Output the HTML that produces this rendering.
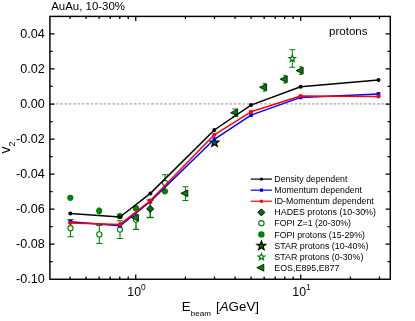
<!DOCTYPE html><html><head><meta charset="utf-8"><style>html,body{margin:0;padding:0;background:#fff}svg{display:block}text{font-family:"Liberation Sans",sans-serif;fill:#000}</style></head><body>
<svg width="415" height="321" viewBox="0 0 415 321">
<rect width="415" height="321" fill="#fff"/>
<g style="filter:blur(0.3px)">
<line x1="49.9" y1="103.9" x2="390.3" y2="103.9" stroke="#a6a6a6" stroke-width="1.35" stroke-dasharray="2.55 1.79" stroke-dashoffset="2.68"/>
<path d="M70.50 219.60V236.80M67.40 219.60H73.60M67.40 236.80H73.60" stroke="#008000" stroke-width="1.05" fill="none"/>
<circle cx="70.5" cy="228.2" r="2.6" fill="#fff" stroke="#008000" stroke-width="1.1"/>
<path d="M99.30 225.40V243.40M96.20 225.40H102.40M96.20 243.40H102.40" stroke="#008000" stroke-width="1.05" fill="none"/>
<circle cx="99.3" cy="234.4" r="2.6" fill="#fff" stroke="#008000" stroke-width="1.1"/>
<path d="M120.00 220.80V238.40M116.90 220.80H123.10M116.90 238.40H123.10" stroke="#008000" stroke-width="1.05" fill="none"/>
<circle cx="120.0" cy="229.6" r="2.6" fill="#fff" stroke="#008000" stroke-width="1.1"/>
<path d="M136.00 209.80V229.40M132.90 209.80H139.10M132.90 229.40H139.10" stroke="#008000" stroke-width="1.4" fill="none"/>
<circle cx="136.0" cy="219.6" r="2.6" fill="#fff" stroke="#008000" stroke-width="1.1"/>
<path d="M165.00 174.70V191.30M161.90 174.70H168.10M161.90 191.30H168.10" stroke="#008000" stroke-width="1.05" fill="none"/>
<circle cx="165.0" cy="183.0" r="2.6" fill="#fff" stroke="#008000" stroke-width="1.1"/>
<circle cx="70.3" cy="197.8" r="3.1" fill="#008000"/>
<path d="M99.2 207.0V214.8" stroke="#008000" stroke-width="1"/>
<circle cx="99.2" cy="210.9" r="3.1" fill="#008000"/>
<circle cx="119.8" cy="216.2" r="3.1" fill="#008000"/>
<circle cx="136.0" cy="208.0" r="3.1" fill="#008000"/>
<circle cx="164.9" cy="191.3" r="3.1" fill="#008000"/>
<path d="M150.20 200.00V217.60M146.70 200.00H153.70M146.70 217.60H153.70" stroke="#008000" stroke-width="1.5" fill="none"/>
<path d="M146.70 208.90L150.20 205.40L153.70 208.90L150.20 212.40Z" fill="#007400" stroke="#000" stroke-width="1.0"/>
<path d="M131.30 217.60L138.30 214.15V221.05Z" fill="#008000" stroke="#001800" stroke-width="0.9" stroke-linejoin="miter"/>
<path d="M185.40 186.70V200.50M182.40 186.70H188.40M182.40 200.50H188.40" stroke="#008000" stroke-width="1.0" fill="none"/>
<path d="M180.80 193.30L187.80 189.85V196.75Z" fill="#008000" stroke="#001800" stroke-width="0.9" stroke-linejoin="miter"/>
<path d="M235.20 109.00V116.40M232.30 109.00H238.10M232.30 116.40H238.10" stroke="#008000" stroke-width="1.0" fill="none"/>
<path d="M230.60 112.70L237.60 109.25V116.15Z" fill="#008000" stroke="#001800" stroke-width="0.9" stroke-linejoin="miter"/>
<path d="M264.20 83.40V91.20M262.60 83.40H265.80M262.60 91.20H265.80" stroke="#008000" stroke-width="1.0" fill="none"/>
<path d="M259.60 87.30L266.60 83.85V90.75Z" fill="#008000" stroke="#001800" stroke-width="0.9" stroke-linejoin="miter"/>
<path d="M284.80 75.30V83.10M283.20 75.30H286.40M283.20 83.10H286.40" stroke="#008000" stroke-width="1.0" fill="none"/>
<path d="M280.20 79.20L287.20 75.75V82.65Z" fill="#008000" stroke="#001800" stroke-width="0.9" stroke-linejoin="miter"/>
<path d="M300.70 66.70V74.50M299.10 66.70H302.30M299.10 74.50H302.30" stroke="#008000" stroke-width="1.0" fill="none"/>
<path d="M296.10 70.60L303.10 67.15V74.05Z" fill="#008000" stroke="#001800" stroke-width="0.9" stroke-linejoin="miter"/>
<polygon points="214.50,137.90 215.62,141.06 218.97,141.15 216.31,143.19 217.26,146.40 214.50,144.50 211.74,146.40 212.69,143.19 210.03,141.15 213.38,141.06" fill="#007000" stroke="#000" stroke-width="1.15"/>
<path d="M292.30 49.70V67.20M289.30 49.70H295.30M289.30 67.20H295.30" stroke="#008000" stroke-width="1.0" fill="none"/>
<polygon points="292.30,55.20 293.18,57.39 295.53,57.55 293.73,59.06 294.30,61.35 292.30,60.10 290.30,61.35 290.87,59.06 289.07,57.55 291.42,57.39" fill="#fff" stroke="#008000" stroke-width="1.25"/>
<polyline points="70.3,213.5 120.0,217.0 150.4,193.4 214.3,130.0 251.0,105.1 300.6,86.8 378.5,80.0" fill="none" stroke="#000" stroke-width="1.5" stroke-linejoin="round"/>
<circle cx="70.3" cy="213.5" r="2.0" fill="#000"/>
<circle cx="120.0" cy="217.0" r="2.0" fill="#000"/>
<circle cx="150.4" cy="193.4" r="2.0" fill="#000"/>
<circle cx="214.3" cy="130.0" r="2.0" fill="#000"/>
<circle cx="251.0" cy="105.1" r="2.0" fill="#000"/>
<circle cx="300.6" cy="86.8" r="2.0" fill="#000"/>
<circle cx="378.5" cy="80.0" r="2.0" fill="#000"/>
<polyline points="70.3,221.7 120.0,225.8 150.4,201.5 214.3,139.3 251.0,115.1 300.6,97.4 378.5,93.9" fill="none" stroke="#00f" stroke-width="1.5" stroke-linejoin="round"/>
<rect x="68.45" y="219.85" width="3.7" height="3.7" fill="#00f"/>
<rect x="118.15" y="223.95000000000002" width="3.7" height="3.7" fill="#00f"/>
<rect x="148.55" y="199.65" width="3.7" height="3.7" fill="#00f"/>
<rect x="212.45000000000002" y="137.45000000000002" width="3.7" height="3.7" fill="#00f"/>
<rect x="249.15" y="113.25" width="3.7" height="3.7" fill="#00f"/>
<rect x="298.75" y="95.55000000000001" width="3.7" height="3.7" fill="#00f"/>
<rect x="376.65" y="92.05000000000001" width="3.7" height="3.7" fill="#00f"/>
<polyline points="70.3,223.0 120.0,224.4 150.4,200.6 214.3,134.8 251.0,111.8 300.6,96.0 378.5,96.4" fill="none" stroke="#f00" stroke-width="1.5" stroke-linejoin="round"/>
<circle cx="70.3" cy="223.0" r="2.1" fill="#f00"/>
<circle cx="120.0" cy="224.4" r="2.1" fill="#f00"/>
<circle cx="150.4" cy="200.6" r="2.1" fill="#f00"/>
<circle cx="214.3" cy="134.8" r="2.1" fill="#f00"/>
<circle cx="251.0" cy="111.8" r="2.1" fill="#f00"/>
<circle cx="300.6" cy="96.0" r="2.1" fill="#f00"/>
<circle cx="378.5" cy="96.4" r="2.1" fill="#f00"/>
</g>
<rect x="49.9" y="16.4" width="340.40000000000003" height="262.85" fill="none" stroke="#000" stroke-width="1.45"/>
<path d="M49.9 33.92h4.7M390.3 33.92h-4.7M49.9 51.45h2.7M390.3 51.45h-2.7M49.9 68.97h4.7M390.3 68.97h-4.7M49.9 86.49h2.7M390.3 86.49h-2.7M49.9 104.02h4.7M390.3 104.02h-4.7M49.9 121.54h2.7M390.3 121.54h-2.7M49.9 139.06h4.7M390.3 139.06h-4.7M49.9 156.59h2.7M390.3 156.59h-2.7M49.9 174.11h4.7M390.3 174.11h-4.7M49.9 191.63h2.7M390.3 191.63h-2.7M49.9 209.16h4.7M390.3 209.16h-4.7M49.9 226.68h2.7M390.3 226.68h-2.7M49.9 244.20h4.7M390.3 244.20h-4.7M49.9 261.73h2.7M390.3 261.73h-2.7M70.09 279.25v-2.7M70.09 16.4v2.7M86.08 279.25v-2.7M86.08 16.4v2.7M99.14 279.25v-2.7M99.14 16.4v2.7M110.19 279.25v-2.7M110.19 16.4v2.7M119.76 279.25v-2.7M119.76 16.4v2.7M128.20 279.25v-2.7M128.20 16.4v2.7M135.75 279.25v-4.7M135.75 16.4v4.7M185.42 279.25v-2.7M185.42 16.4v2.7M214.48 279.25v-2.7M214.48 16.4v2.7M235.09 279.25v-2.7M235.09 16.4v2.7M251.08 279.25v-2.7M251.08 16.4v2.7M264.14 279.25v-2.7M264.14 16.4v2.7M275.19 279.25v-2.7M275.19 16.4v2.7M284.76 279.25v-2.7M284.76 16.4v2.7M293.20 279.25v-2.7M293.20 16.4v2.7M300.75 279.25v-4.7M300.75 16.4v4.7M350.42 279.25v-2.7M350.42 16.4v2.7M379.48 279.25v-2.7M379.48 16.4v2.7" stroke="#000" stroke-width="1.25" fill="none"/>
<g style="filter:blur(0.3px)">
<text x="44.8" y="38.07" font-size="12.6" text-anchor="end">0.04</text>
<text x="44.8" y="73.12" font-size="12.6" text-anchor="end">0.02</text>
<text x="44.8" y="108.17" font-size="12.6" text-anchor="end">0.00</text>
<text x="44.8" y="143.21" font-size="12.6" text-anchor="end">-0.02</text>
<text x="44.8" y="178.26" font-size="12.6" text-anchor="end">-0.04</text>
<text x="44.8" y="213.31" font-size="12.6" text-anchor="end">-0.06</text>
<text x="44.8" y="248.35" font-size="12.6" text-anchor="end">-0.08</text>
<text x="44.8" y="283.40" font-size="12.6" text-anchor="end">-0.10</text>
<text x="127.35" y="295.6" font-size="12.35">10<tspan font-size="8.4" dy="-5.9">0</tspan></text>
<text x="292.35" y="295.6" font-size="12.35">10<tspan font-size="8.4" dy="-5.9">1</tspan></text>
<text x="51.2" y="10.4" font-size="11.45">AuAu, 10-30%</text>
<text x="329.0" y="35" font-size="11.55">protons</text>
<text transform="translate(9.9,153.6) rotate(-90)" font-size="14.2">v<tspan font-size="8.9" dy="4.7">2</tspan></text>
<text x="181.8" y="311.2" font-size="13.35">E<tspan font-size="8.1" dy="4.3">beam</tspan><tspan dy="-4.3" dx="1.3"> [</tspan><tspan font-style="italic">A</tspan>GeV]</text>
<text x="274.3" y="182.20" font-size="8.78">Density dependent</text>
<line x1="250.8" y1="179.10" x2="272" y2="179.10" stroke="#000" stroke-width="1.2"/>
<circle cx="261.4" cy="179.10" r="1.7" fill="#000"/>
<text x="274.3" y="193.26" font-size="8.78">Momentum dependent</text>
<line x1="250.8" y1="190.16" x2="272" y2="190.16" stroke="#00f" stroke-width="1.2"/>
<rect x="259.79999999999995" y="188.56" width="3.2" height="3.2" fill="#00f"/>
<text x="274.3" y="204.32" font-size="8.78">ID-Momentum dependent</text>
<line x1="250.8" y1="201.22" x2="272" y2="201.22" stroke="#f00" stroke-width="1.2"/>
<circle cx="261.4" cy="201.22" r="1.7" fill="#f00"/>
<text x="274.3" y="215.38" font-size="8.9">HADES protons (10-30%)</text>
<path d="M257.90 212.38L261.40 208.88L264.90 212.38L261.40 215.88Z" fill="#007400" stroke="#000" stroke-width="1.0"/>
<text x="274.3" y="226.44" font-size="8.78">FOPI Z=1 (20-30%)</text>
<circle cx="261.4" cy="223.34" r="2.7" fill="#fff" stroke="#008000" stroke-width="1.1"/>
<text x="274.3" y="237.50" font-size="8.78">FOPI protons (15-29%)</text>
<circle cx="261.4" cy="234.40" r="3.2" fill="#008000"/>
<text x="274.3" y="248.56" font-size="8.9">STAR protons (10-40%)</text>
<polygon points="261.40,241.06 262.52,244.22 265.87,244.31 263.21,246.35 264.16,249.56 261.40,247.66 258.64,249.56 259.59,246.35 256.93,244.31 260.28,244.22" fill="#007000" stroke="#000" stroke-width="1.15"/>
<text x="274.3" y="259.62" font-size="8.9">STAR protons (0-30%)</text>
<polygon points="261.40,253.57 262.28,255.76 264.63,255.92 262.83,257.43 263.40,259.72 261.40,258.47 259.40,259.72 259.97,257.43 258.17,255.92 260.52,255.76" fill="#fff" stroke="#008000" stroke-width="1.25"/>
<text x="274.3" y="270.68" font-size="8.9">EOS,E895,E877</text>
<path d="M256.80 267.68L263.80 264.23V271.13Z" fill="#008000" stroke="#001800" stroke-width="0.9" stroke-linejoin="miter"/>
</g>
</svg></body></html>
